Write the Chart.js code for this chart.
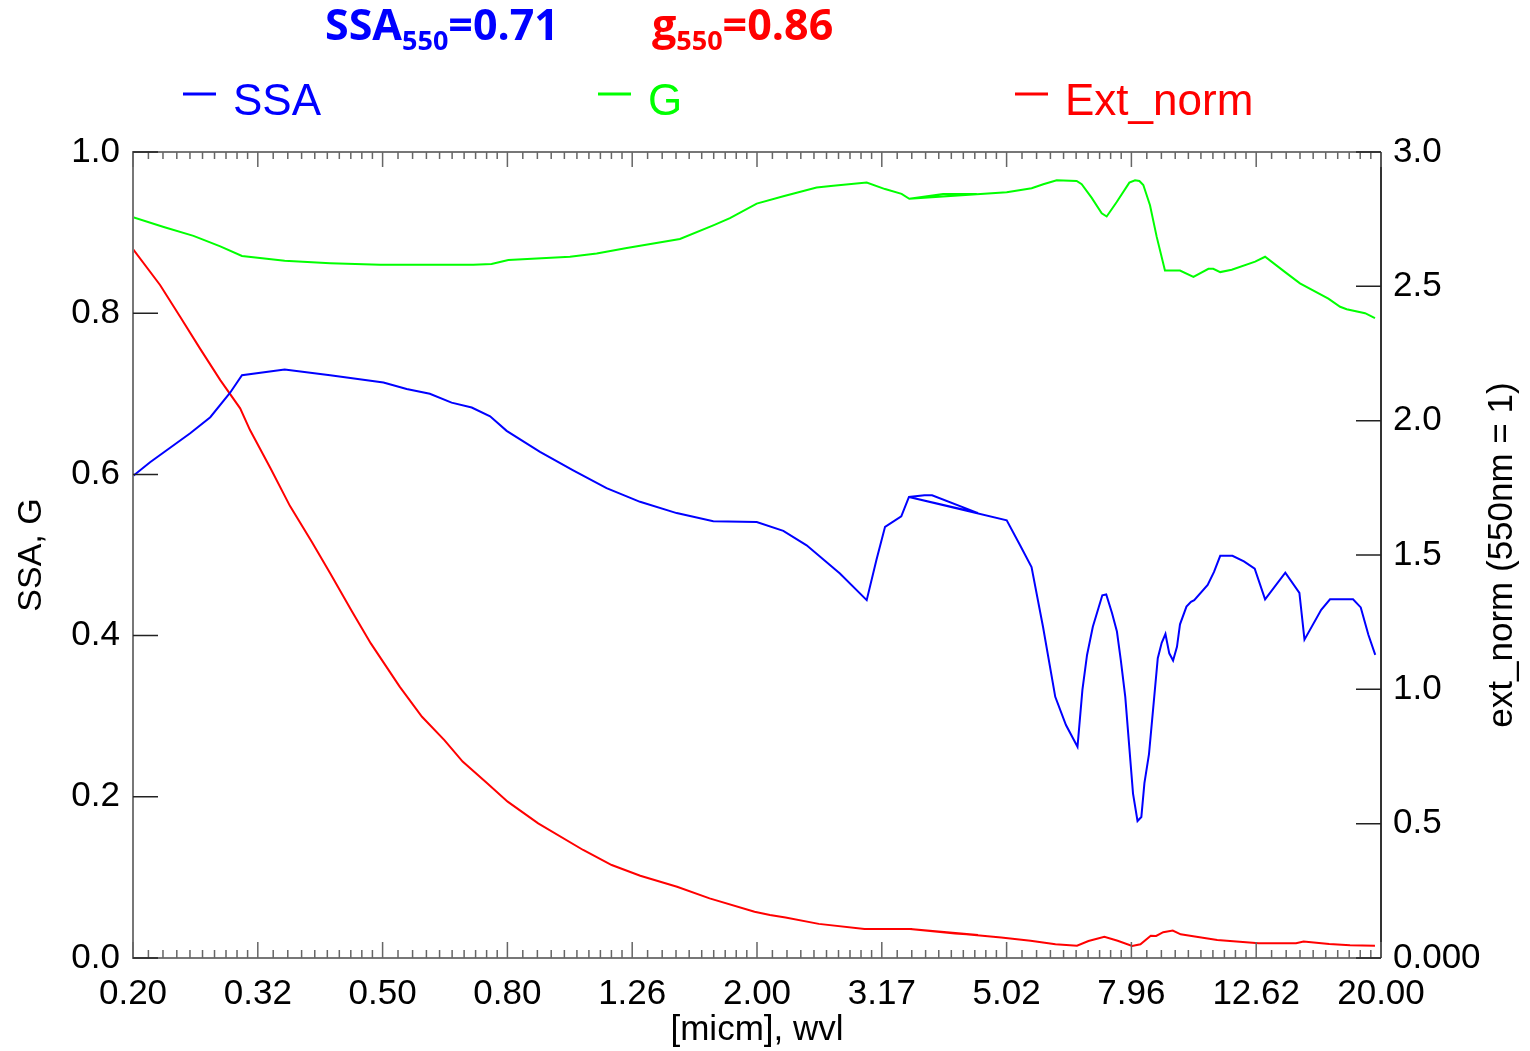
<!DOCTYPE html>
<html>
<head>
<meta charset="utf-8">
<title>SSA, G, Ext_norm</title>
<script src="https://cdn.jsdelivr.net/npm/chart.js@4"></script>
<style>
  html, body { margin: 0; padding: 0; background: #fff; }
  #wrap { width: 1530px; height: 1051px; }
</style>
</head>
<body>
<div id="wrap"><canvas id="c" width="1530" height="1051"></canvas></div>
<script>
const FONT = "'Liberation Sans', Arial, sans-serif";
const BOLD_FONT = "'Open Sans', 'Liberation Sans', sans-serif";

// wavelengths (micron) and values; the 3.5-4.5 stretch doubles back in the source data
const ssaWvl = [0.200,0.213,0.247,0.266,0.286,0.299,0.350,0.414,0.504,0.549,0.598,0.648,0.698,0.747,0.794,0.898,1.015,1.148,1.299,1.487,1.702,1.998,2.204,2.402,2.716,2.998,3.108,3.208,3.406,3.504,3.710,3.816,4.522,3.504,5.026,5.280,5.508,5.746,6.012,6.254,6.526,6.646,6.760,6.906,7.152,7.256,7.412,7.548,7.656,7.784,8.010,8.144,8.260,8.354,8.496,8.776,8.904,9.028,9.156,9.286,9.420,9.526,9.756,9.920,10.04,10.55,10.80,11.05,11.56,12.06,12.55,13.04,14.05,14.80,15.08,16.04,16.57,18.04,18.56,19.09,19.58];
const ssaVal = [0.598,0.615,0.651,0.671,0.701,0.723,0.730,0.723,0.714,0.706,0.700,0.689,0.683,0.672,0.654,0.628,0.605,0.583,0.566,0.552,0.542,0.541,0.530,0.512,0.477,0.444,0.494,0.535,0.548,0.572,0.574,0.574,0.552,0.572,0.543,0.512,0.485,0.411,0.324,0.289,0.262,0.333,0.376,0.411,0.450,0.451,0.428,0.405,0.370,0.324,0.204,0.170,0.175,0.217,0.253,0.372,0.391,0.402,0.378,0.369,0.386,0.414,0.436,0.442,0.444,0.463,0.479,0.499,0.499,0.492,0.483,0.445,0.478,0.453,0.395,0.432,0.445,0.445,0.435,0.401,0.376];

const gWvl = [0.200,0.224,0.250,0.276,0.299,0.350,0.414,0.498,0.598,0.702,0.751,0.799,1.003,1.107,1.237,1.505,1.702,1.810,1.998,2.204,2.492,2.650,2.998,3.208,3.410,3.508,3.974,4.500,3.508,5.026,5.510,5.752,6.044,6.506,6.628,6.878,7.136,7.268,7.542,7.902,8.070,8.200,8.320,8.528,8.740,9.012,9.526,10.01,10.58,10.77,11.05,11.53,12.57,13.04,14.04,14.83,16.47,17.20,17.62,18.86,19.56];
const gVal = [0.919,0.907,0.896,0.883,0.871,0.865,0.862,0.860,0.860,0.860,0.861,0.866,0.870,0.874,0.881,0.892,0.909,0.918,0.936,0.945,0.956,0.958,0.962,0.954,0.948,0.942,0.948,0.948,0.942,0.950,0.955,0.960,0.965,0.964,0.960,0.943,0.924,0.920,0.938,0.962,0.965,0.964,0.959,0.934,0.895,0.853,0.853,0.845,0.855,0.855,0.851,0.854,0.864,0.870,0.851,0.837,0.818,0.808,0.805,0.800,0.794];

const extWvl = [0.200,0.221,0.238,0.256,0.276,0.297,0.308,0.332,0.357,0.387,0.414,0.449,0.481,0.535,0.581,0.631,0.675,0.739,0.797,0.892,1.053,1.170,1.300,1.489,1.679,1.982,2.098,2.222,2.512,2.974,3.518,4.154,4.522,3.518,4.924,5.488,6.016,6.514,6.796,7.206,7.568,7.984,8.232,8.552,8.724,8.954,9.276,9.550,10.12,10.93,12.74,14.62,15.03,16.52,17.84,19.56];
const extVal = [2.639,2.505,2.387,2.269,2.151,2.046,1.965,1.824,1.682,1.548,1.432,1.289,1.171,1.010,0.898,0.811,0.731,0.650,0.582,0.501,0.402,0.346,0.306,0.265,0.222,0.172,0.160,0.151,0.127,0.108,0.108,0.091,0.086,0.108,0.076,0.064,0.051,0.046,0.063,0.079,0.064,0.045,0.051,0.083,0.082,0.096,0.102,0.088,0.079,0.067,0.055,0.055,0.061,0.052,0.047,0.046];

const xTickValues = [0.2,0.31698,0.50238,0.79621,1.26191,2.0,3.16979,5.02377,7.96214,12.6191,20.0];
const xTickLabels = ['0.20','0.32','0.50','0.80','1.26','2.00','3.17','5.02','7.96','12.62','20.00'];

const ssa550 = '0.71';
const g550 = '0.86';

const BLUE = '#0000ff', GREEN = '#00ff00', RED = '#ff0000';

const pairs = (xs, ys) => xs.map((x, i) => ({ x: x, y: ys[i] }));

// IDL-style frame: ticks pointing into the plot, minor ticks on x
const idlAxes = {
  id: 'idlAxes',
  afterDatasetsDraw(chart) {
    const { ctx, chartArea: a, scales } = chart;
    ctx.save();
    ctx.lineWidth = 2;
    ctx.strokeStyle = '#777';
    ctx.beginPath();
    ctx.moveTo(a.right, a.top); ctx.lineTo(a.left, a.top);
    ctx.lineTo(a.left, a.bottom); ctx.lineTo(a.right, a.bottom);
    ctx.stroke();
    ctx.strokeStyle = '#333';
    ctx.beginPath(); ctx.moveTo(a.right, a.top); ctx.lineTo(a.right, a.bottom); ctx.stroke();

    const x = scales.x;
    ctx.lineWidth = 1.5;
    ctx.strokeStyle = '#666';
    ctx.beginPath();
    xTickValues.forEach((v, k) => {
      const px = x.getPixelForValue(v);
      ctx.moveTo(px, a.bottom); ctx.lineTo(px, a.bottom - 16);
      ctx.moveTo(px, a.top); ctx.lineTo(px, a.top + 15);
      if (k < xTickValues.length - 1) {
        const step = (xTickValues[k + 1] - v) / 10;
        for (let j = 1; j < 10; j++) {
          const m = x.getPixelForValue(v + j * step);
          ctx.moveTo(m, a.bottom); ctx.lineTo(m, a.bottom - 8);
          ctx.moveTo(m, a.top); ctx.lineTo(m, a.top + 7);
        }
      }
    });
    ctx.stroke();

    ctx.strokeStyle = '#222';
    ctx.beginPath();
    scales.y.ticks.forEach(t => {
      const py = scales.y.getPixelForValue(t.value);
      ctx.moveTo(a.left, py); ctx.lineTo(a.left + 25, py);
    });
    scales.y2.ticks.forEach(t => {
      const py = scales.y2.getPixelForValue(t.value);
      ctx.moveTo(a.right, py); ctx.lineTo(a.right - 25, py);
    });
    ctx.stroke();
    ctx.restore();
  }
};

// header values, legend row and right axis title
const header = {
  id: 'header',
  afterDraw(chart) {
    const ctx = chart.ctx;
    ctx.save();
    ctx.textBaseline = 'alphabetic';
    ctx.textAlign = 'left';

    const runs = (x0, parts, color) => {
      let x = x0;
      ctx.fillStyle = color;
      parts.forEach(([txt, size, base]) => {
        ctx.font = 'bold ' + size + 'px ' + BOLD_FONT;
        ctx.fillText(txt, x, base);
        x += ctx.measureText(txt).width;
      });
    };
    runs(325, [['SSA', 43, 40], ['550', 27, 50], ['=' + ssa550, 43, 40]], BLUE);
    runs(652, [['g', 43, 40], ['550', 27, 50], ['=' + g550, 43, 40]], RED);

    const legendX = [183, 598, 1015];
    chart.data.datasets.forEach((ds, i) => {
      const lx = legendX[i];
      ctx.strokeStyle = ds.borderColor;
      ctx.lineWidth = 3;
      ctx.beginPath(); ctx.moveTo(lx, 94); ctx.lineTo(lx + 33, 94); ctx.stroke();
      ctx.fillStyle = ds.borderColor;
      ctx.font = '44px ' + FONT;
      ctx.fillText(ds.label, lx + 50, 115);
    });

    ctx.translate(1502, 555);
    ctx.rotate(-Math.PI / 2);
    ctx.textAlign = 'center';
    ctx.textBaseline = 'middle';
    ctx.fillStyle = '#000';
    ctx.font = '35px ' + FONT;
    ctx.fillText('ext_norm (550nm = 1)', 0, 0);
    ctx.restore();
  }
};

const tickFont = { family: FONT, size: 35 };

new Chart(document.getElementById('c'), {
  type: 'line',
  data: {
    datasets: [
      { label: 'SSA', data: pairs(ssaWvl, ssaVal), borderColor: BLUE, yAxisID: 'y' },
      { label: 'G', data: pairs(gWvl, gVal), borderColor: GREEN, yAxisID: 'y' },
      { label: 'Ext_norm', data: pairs(extWvl, extVal), borderColor: RED, yAxisID: 'y2' }
    ]
  },
  options: {
    responsive: false,
    animation: false,
    devicePixelRatio: 1,
    events: [],
    layout: { padding: { top: 152, left: 0, right: 0, bottom: 0 } },
    elements: {
      line: { borderWidth: 2, tension: 0, fill: false },
      point: { radius: 0 }
    },
    plugins: { legend: { display: false }, title: { display: false }, tooltip: { enabled: false } },
    scales: {
      x: {
        type: 'logarithmic', position: 'bottom', min: 0.2, max: 20,
        afterBuildTicks: s => { s.ticks = xTickValues.map(v => ({ value: v })); },
        afterFit: s => { s.height = 93; },
        grid: { display: false, drawTicks: false },
        border: { display: false },
        ticks: { autoSkip: false, maxRotation: 0, padding: 15, color: '#000', font: tickFont,
                 callback: (v, i) => xTickLabels[i] },
        title: { display: true, text: '[micm], wvl', color: '#000', font: { family: FONT, size: 35 }, padding: 0 }
      },
      y: {
        position: 'left', min: 0, max: 1,
        afterFit: s => { s.width = 133; },
        grid: { display: false, drawTicks: false },
        border: { display: false },
        ticks: { stepSize: 0.2, padding: 13, color: '#000', font: tickFont, callback: v => v.toFixed(1) },
        title: { display: true, text: 'SSA, G', color: '#000', font: { family: FONT, size: 34 }, padding: { top: 11, bottom: 0 } }
      },
      y2: {
        position: 'right', min: 0, max: 3,
        afterFit: s => { s.width = 149; },
        grid: { display: false, drawTicks: false },
        border: { display: false },
        ticks: { stepSize: 0.5, padding: 12, color: '#000', font: tickFont,
                 callback: v => (v === 0 ? '0.000' : v.toFixed(1)) }
      }
    }
  },
  plugins: [idlAxes, header]
});
</script>
</body>
</html>
